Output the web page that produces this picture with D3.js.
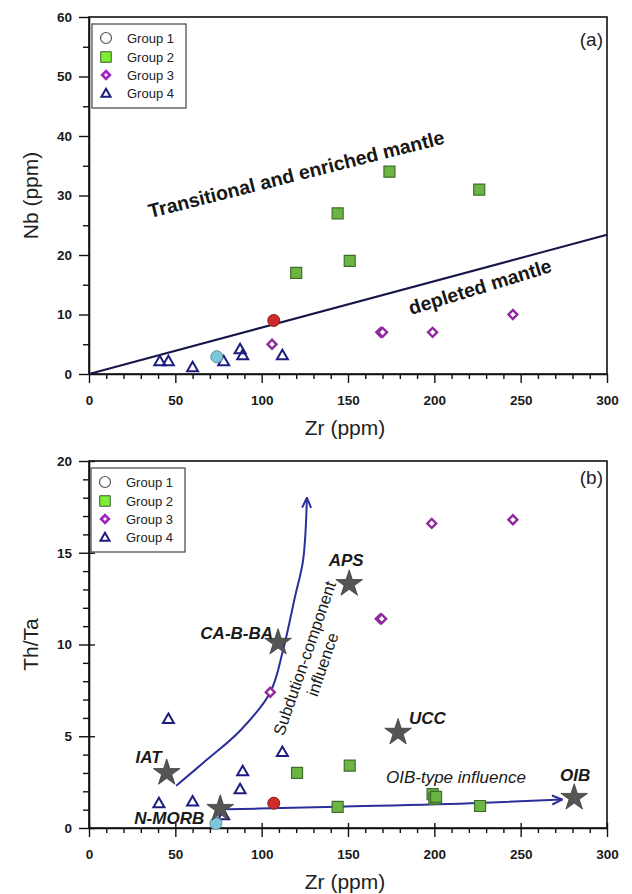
<!DOCTYPE html>
<html>
<head>
<meta charset="utf-8">
<script src="https://cdn.jsdelivr.net/npm/d3@7"></script>
<style>
  body { margin: 0; background: #fff; }
  text { font-family: "Liberation Sans", Arial, sans-serif; }
</style>
</head>
<body>
<svg id="chart"></svg>
<script>
// ---- panel (a): Zr vs Nb ----
const aG1Zr = [74, 107];
const aG1Nb = [2.9, 9];
const aG2Zr = [120, 144, 151, 174, 226];
const aG2Nb = [17, 27, 19, 34, 31];
const aG3Zr = [106, 169, 170, 199, 245.5];
const aG3Nb = [5, 7, 7, 7, 10];
const aG4Zr = [41, 46, 60, 78, 87.5, 89, 112];
const aG4Nb = [2, 2, 1, 2, 4, 3, 3];
// mantle divide line
const divideZr = [0, 300];
const divideNb = [0, 23.4];

// ---- panel (b): Zr vs Th/Ta ----
const bG1Zr = [73.5, 107];
const bG1Th = [0.25, 1.35];
const bG2Zr = [120.5, 144, 151, 199, 200, 201, 226.5];
const bG2Th = [3.0, 1.15, 3.4, 1.85, 1.6, 1.7, 1.2];
const bG3Zr = [105, 168.7, 169.5, 198.5, 245.5];
const bG3Th = [7.4, 11.4, 11.4, 16.6, 16.8];
const bG4Zr = [40.5, 46, 60, 78, 87.5, 89, 112];
const bG4Th = [1.3, 5.9, 1.4, 0.65, 2.07, 3.05, 4.1];

// reference compositions (stars)
const refNames = ["N-MORB", "IAT", "CA-B-BA", "APS", "UCC", "OIB"];
const refZr = [76, 45, 109.5, 150.7, 179, 281];
const refTh = [1.05, 3.0, 10.1, 13.3, 5.2, 1.65];

// trend arrows
const subductionZr = [50.5, 68, 87.5, 105, 112.4, 119.3, 124, 126.2];
const subductionTh = [2.3, 3.7, 5.3, 7.4, 9.7, 12.6, 14.6, 18.0];
const oibZr = [80, 144, 226, 274];
const oibTh = [1.02, 1.16, 1.36, 1.55];

// tick values
const zrMajor = [0, 50, 100, 150, 200, 250, 300];
const nbMajor = [0, 10, 20, 30, 40, 50, 60];
const thMajor = [0, 5, 10, 15, 20];
const groupNames = ["Group 1", "Group 2", "Group 3", "Group 4"];

// colors
const g1Fills = ["#7ec6da", "#d02a2a"];
const g1Strokes = ["#5f8f9c", "#8a1d1d"];
const green = "#6cb544", greenStroke = "#3e6f2a";
const purple = "#8e2a9c";
const navy = "#1d1d80";
const starColor = "#555555";
const arrowColor = "#2b2f9c";
const lineColor = "#16164a";

const W = 632, H = 894;
const svg = d3.select("#chart").attr("width", W).attr("height", H);

const zip = (xs, ys) => xs.map((v, i) => [v, ys[i]]);

// open arrow head
svg.append("defs")
  .append("marker")
  .attr("id", "openArrow")
  .attr("viewBox", "0 0 12 12")
  .attr("refX", 11)
  .attr("refY", 6)
  .attr("markerWidth", 12)
  .attr("markerHeight", 12)
  .attr("markerUnits", "userSpaceOnUse")
  .attr("orient", "auto")
  .append("path")
  .attr("d", "M1,1.5L11,6L1,10.5")
  .attr("fill", "none")
  .attr("stroke", arrowColor)
  .attr("stroke-width", 2);

function makeScales(yDomain, yRange) {
  const x = d3.scaleLinear().domain([0, 300]).range([89, 607]);
  const y = d3.scaleLinear().domain(yDomain).range(yRange);
  return { x, y };
}

function drawAxes(x, y, yMajor, yMinorStep, yTitle, crossTicks) {
  const g = svg.append("g");
  const y0 = y.range()[0], y1 = y.range()[1];
  const xMinor = d3.range(0, 301, 10).filter(v => v % 50 !== 0);
  const yMinor = d3.range(y.domain()[0], y.domain()[1] + 0.01, yMinorStep)
    .filter(v => !yMajor.includes(v));

  // frame
  g.append("rect")
    .attr("x", x.range()[0]).attr("y", y1)
    .attr("width", x.range()[1] - x.range()[0])
    .attr("height", y0 - y1)
    .attr("fill", "none").attr("stroke", "#111").attr("stroke-width", 1.6);

  // minor ticks
  g.append("g").attr("transform", `translate(0,${y0})`)
    .call(d3.axisBottom(x).tickValues(xMinor).tickSize(5).tickFormat(""))
    .call(s => s.select(".domain").remove());
  g.append("g").attr("transform", `translate(${x.range()[0]},0)`)
    .call(d3.axisLeft(y).tickValues(yMinor).tickSize(6).tickFormat(""))
    .call(s => s.select(".domain").remove());

  // major ticks + labels
  const xa = g.append("g").attr("transform", `translate(0,${y0})`)
    .call(d3.axisBottom(x).tickValues(zrMajor).tickSize(9).tickPadding(12).tickSizeOuter(0));
  const ya = g.append("g").attr("transform", `translate(${x.range()[0]},0)`)
    .call(d3.axisLeft(y).tickValues(yMajor).tickSize(10).tickPadding(7).tickSizeOuter(0));
  if (crossTicks) {
    xa.selectAll(".tick line").attr("y1", -5);
    ya.selectAll(".tick line").attr("x1", 6);
  }
  g.selectAll(".domain").attr("stroke", "#111").attr("stroke-width", 1.6);
  g.selectAll(".tick line").attr("stroke", "#111").attr("stroke-width", 1.4);
  g.selectAll(".tick text")
    .attr("font-size", 13.5).attr("font-weight", "bold").attr("fill", "#1a1a1a")
    .attr("font-family", "Liberation Sans, Arial, sans-serif");

  // titles
  g.append("text")
    .attr("x", 345).attr("y", y0 + 61)
    .attr("text-anchor", "middle").attr("font-size", 21).attr("fill", "#222")
    .text("Zr (ppm)");
  g.append("text")
    .attr("transform", `translate(38,${(y0 + y1) / 2}) rotate(-90)`)
    .attr("text-anchor", "middle").attr("font-size", 21).attr("fill", "#222")
    .text(yTitle);
}

function drawLegend(left, top) {
  const g = svg.append("g").attr("transform", `translate(${left},${top})`);
  g.append("rect").attr("width", 94).attr("height", 84)
    .attr("fill", "#fff").attr("stroke", "#444").attr("stroke-width", 1.2);
  const rows = [14, 33, 51, 69];
  const sym = d3.symbol();
  groupNames.forEach((name, i) => {
    const row = g.append("g").attr("transform", `translate(14,${rows[i]})`);
    if (i === 0) {
      row.append("circle").attr("r", 5.5).attr("fill", "#fff").attr("stroke", "#555").attr("stroke-width", 1.2);
    } else if (i === 1) {
      row.append("path").attr("d", sym.type(d3.symbolSquare).size(110)())
        .attr("fill", "#7cf034").attr("stroke", "#3a5a2a").attr("stroke-width", 1);
    } else if (i === 2) {
      row.append("path").attr("d", sym.type(d3.symbolSquare).size(30)())
        .attr("transform", "rotate(45)")
        .attr("fill", "#fff").attr("stroke", "#a020c0").attr("stroke-width", 2.6);
    } else {
      row.append("path").attr("d", sym.type(d3.symbolTriangle).size(36)())
        .attr("transform", "translate(0,1)")
        .attr("fill", "#fff").attr("stroke", navy).attr("stroke-width", 2);
    }
    g.append("text").attr("x", 35).attr("y", rows[i] + 5)
      .attr("font-size", 13).attr("fill", "#222").text(name);
  });
}

function drawGroups(x, y, g1, g2, g3, g4) {
  const sym = d3.symbol();
  const g = svg.append("g");
  // group 4 triangles
  g.selectAll(".g4").data(g4).enter().append("path")
    .attr("d", sym.type(d3.symbolTriangle).size(52)())
    .attr("transform", d => `translate(${x(d[0])},${y(d[1])})`)
    .attr("fill", "#fff").attr("fill-opacity", 0).attr("stroke", navy).attr("stroke-width", 2);
  // group 3 diamonds
  g.selectAll(".g3").data(g3).enter().append("path")
    .attr("d", sym.type(d3.symbolSquare).size(40)())
    .attr("transform", d => `translate(${x(d[0])},${y(d[1])}) rotate(45)`)
    .attr("fill", "#fff").attr("stroke", purple).attr("stroke-width", 2.4);
  // group 2 squares
  g.selectAll(".g2").data(g2).enter().append("path")
    .attr("d", sym.type(d3.symbolSquare).size(121)())
    .attr("transform", d => `translate(${x(d[0])},${y(d[1])})`)
    .attr("fill", green).attr("stroke", greenStroke).attr("stroke-width", 1.2);
  // group 1 circles
  g.selectAll(".g1").data(g1).enter().append("circle")
    .attr("cx", d => x(d[0])).attr("cy", d => y(d[1])).attr("r", 6)
    .attr("fill", (d, i) => g1Fills[i]).attr("stroke", (d, i) => g1Strokes[i]).attr("stroke-width", 1);
}

// ================= panel (a) =================
{
  const { x, y } = makeScales([0, 60], [374, 17]);
  drawAxes(x, y, nbMajor, 5, "Nb (ppm)", false);

  svg.append("path")
    .datum(zip(divideZr, divideNb))
    .attr("d", d3.line().x(d => x(d[0])).y(d => y(d[1])))
    .attr("fill", "none").attr("stroke", lineColor).attr("stroke-width", 2);

  drawGroups(x, y, zip(aG1Zr, aG1Nb), zip(aG2Zr, aG2Nb), zip(aG3Zr, aG3Nb), zip(aG4Zr, aG4Nb));

  const notes = [
    { text: "Transitional and enriched mantle", zr: 35.5, v: 26.2, angle: -14.2 },
    { text: "depleted mantle", zr: 186.5, v: 9.9, angle: -17 }
  ];
  svg.append("g").selectAll("text").data(notes).enter().append("text")
    .attr("transform", d => `translate(${x(d.zr)},${y(d.v)}) rotate(${d.angle})`)
    .attr("font-size", 19.5).attr("font-weight", "bold").attr("fill", "#161616")
    .text(d => d.text);

  svg.append("text").attr("x", 603).attr("y", 46).attr("text-anchor", "end")
    .attr("font-size", 19).attr("fill", "#222").text("(a)");

  drawLegend(92, 24);
}

// ================= panel (b) =================
{
  const { x, y } = makeScales([0, 20], [828, 461]);
  drawAxes(x, y, thMajor, 1, "Th/Ta", true);

  const line = d3.line().x(d => x(d[0])).y(d => y(d[1]));
  svg.append("path")
    .datum(zip(subductionZr, subductionTh))
    .attr("d", line.curve(d3.curveCatmullRom))
    .attr("fill", "none").attr("stroke", arrowColor).attr("stroke-width", 2)
    .attr("marker-end", "url(#openArrow)");
  svg.append("path")
    .datum(zip(oibZr, oibTh))
    .attr("d", line.curve(d3.curveMonotoneX))
    .attr("fill", "none").attr("stroke", arrowColor).attr("stroke-width", 2)
    .attr("marker-end", "url(#openArrow)");

  drawGroups(x, y, zip(bG1Zr, bG1Th), zip(bG2Zr, bG2Th), zip(bG3Zr, bG3Th), zip(bG4Zr, bG4Th));

  // reference stars
  const refs = refNames.map((n, i) => ({ name: n, zr: refZr[i], th: refTh[i] }));
  const labelPos = {
    "N-MORB": [-16, 15, "end"],
    "IAT": [-5, -10, "end"],
    "CA-B-BA": [-5, -4, "end"],
    "APS": [-3, -18, "middle"],
    "UCC": [11, -9, "start"],
    "OIB": [1, -17, "middle"]
  };
  const star = d3.symbol().type(d3.symbolStar).size(220);
  svg.append("g").selectAll("path").data(refs).enter().append("path")
    .attr("d", star())
    .attr("transform", d => `translate(${x(d.zr)},${y(d.th)})`)
    .attr("fill", starColor).attr("stroke", "#3a3a3a").attr("stroke-width", 0.8);
  svg.append("g").selectAll("text").data(refs).enter().append("text")
    .attr("x", d => x(d.zr) + labelPos[d.name][0])
    .attr("y", d => y(d.th) + labelPos[d.name][1])
    .attr("text-anchor", d => labelPos[d.name][2])
    .attr("font-size", 17).attr("font-weight", "bold").attr("font-style", "italic")
    .attr("fill", "#1a1a1a")
    .text(d => d.name);

  // trend labels
  const sub = svg.append("text")
    .attr("transform", `translate(${x(128)},${y(9.15)}) rotate(-71)`)
    .attr("text-anchor", "middle").attr("font-size", 16.5).attr("fill", "#1a1a1a");
  sub.append("tspan").attr("x", 0).attr("dy", 0).text("Subdution-component");
  sub.append("tspan").attr("x", 0).attr("dy", 19).text("influence");

  svg.append("text")
    .attr("x", x(212.5)).attr("y", y(2.45))
    .attr("text-anchor", "middle").attr("font-size", 17).attr("font-style", "italic")
    .attr("fill", "#1a1a1a").text("OIB-type influence");

  svg.append("text").attr("x", 603).attr("y", 484).attr("text-anchor", "end")
    .attr("font-size", 19).attr("fill", "#222").text("(b)");

  drawLegend(91, 468);
}
</script>
</body>
</html>
